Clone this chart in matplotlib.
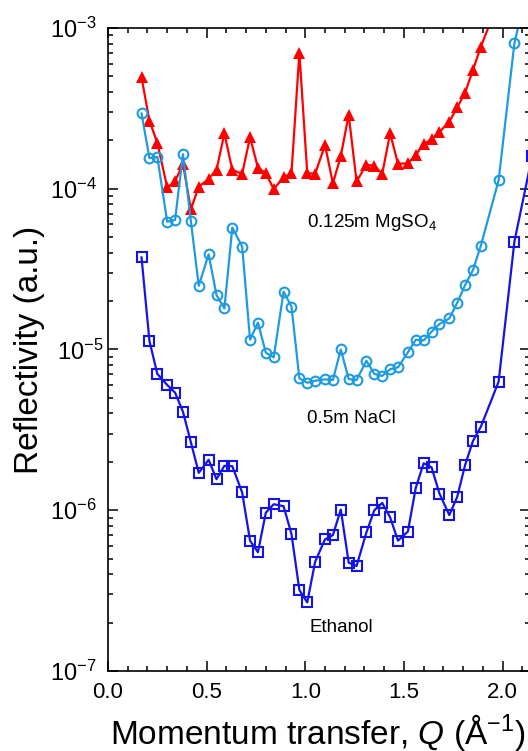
import matplotlib
matplotlib.use("Agg")
import matplotlib.pyplot as plt
from matplotlib.ticker import MultipleLocator, LogLocator, NullFormatter, FormatStrFormatter
from matplotlib.transforms import ScaledTranslation

plt.rcParams['font.family'] = ['Liberation Sans', 'DejaVu Sans']
plt.rcParams['mathtext.fontset'] = 'custom'
plt.rcParams['mathtext.rm'] = 'Liberation Sans'
plt.rcParams['mathtext.it'] = 'Liberation Sans:italic'
plt.rcParams['mathtext.bf'] = 'Liberation Sans:bold'

# momentum transfer grid (1/Angstrom)
q = [0.17, 0.21, 0.25, 0.30, 0.34, 0.38, 0.42, 0.46, 0.51, 0.55,
     0.59, 0.63, 0.68, 0.72, 0.76, 0.80, 0.84, 0.89, 0.93, 0.97,
     1.01, 1.05, 1.10, 1.14, 1.18, 1.22, 1.26, 1.31, 1.35, 1.39,
     1.43, 1.47, 1.52, 1.56, 1.60, 1.64, 1.68, 1.73, 1.77, 1.81,
     1.85, 1.89]
q_tail_mg = [1.94]
q_tail = [1.98, 2.06, 2.15]

mgso4 = [4.93e-4, 2.65e-4, 1.93e-4, 1.02e-4, 1.11e-4, 1.43e-4, 7.45e-5, 1.03e-4, 1.15e-4, 1.31e-4,
         2.21e-4, 1.31e-4, 1.24e-4, 2.09e-4, 1.35e-4, 1.25e-4, 9.93e-5, 1.18e-4, 1.25e-4, 7.02e-4,
         1.25e-4, 1.24e-4, 1.87e-4, 1.08e-4, 1.60e-4, 2.88e-4, 1.11e-4, 1.41e-4, 1.39e-4, 1.24e-4,
         2.21e-4, 1.43e-4, 1.44e-4, 1.62e-4, 1.90e-4, 2.03e-4, 2.26e-4, 2.61e-4, 3.21e-4, 3.96e-4,
         5.48e-4, 7.65e-4]
mgso4_tail = [1.1e-3]

nacl = [2.94e-4, 1.55e-4, 1.58e-4, 6.24e-5, 6.40e-5, 1.64e-4, 6.30e-5, 2.49e-5, 3.91e-5, 2.18e-5,
        1.80e-5, 5.73e-5, 4.37e-5, 1.15e-5, 1.47e-5, 9.55e-6, 8.94e-6, 2.29e-5, 1.85e-5, 6.62e-6,
        6.21e-6, 6.39e-6, 6.52e-6, 6.46e-6, 1.00e-5, 6.55e-6, 6.46e-6, 8.51e-6, 7.05e-6, 6.85e-6,
        7.54e-6, 7.75e-6, 9.61e-6, 1.15e-5, 1.14e-5, 1.29e-5, 1.44e-5, 1.56e-5, 1.95e-5, 2.52e-5,
        3.12e-5, 4.43e-5]
nacl_tail = [1.13e-4, 8.04e-4, 2.4e-3]

ethanol = [3.74e-5, 1.13e-5, 7.05e-6, 6.02e-6, 5.39e-6, 4.10e-6, 2.65e-6, 1.71e-6, 2.06e-6, 1.56e-6,
           1.89e-6, 1.88e-6, 1.29e-6, 6.47e-7, 5.48e-7, 9.66e-7, 1.09e-6, 1.06e-6, 7.11e-7, 3.19e-7,
           2.67e-7, 4.79e-7, 6.59e-7, 7.01e-7, 1.01e-6, 4.72e-7, 4.50e-7, 7.29e-7, 1.00e-6, 1.11e-6,
           9.03e-7, 6.47e-7, 7.37e-7, 1.38e-6, 1.96e-6, 1.85e-6, 1.27e-6, 9.33e-7, 1.21e-6, 1.91e-6,
           2.70e-6, 3.31e-6]
ethanol_tail = [6.31e-6, 4.69e-5, 1.6e-4]

y_ticks = [1e-7, 1e-6, 1e-5, 1e-4, 1e-3]
y_ticklabels = [r'$10^{-7}$', r'$10^{-6}$', r'$10^{-5}$', r'$10^{-4}$', r'$10^{-3}$']

fig = plt.figure(figsize=(5.28, 7.51), dpi=100)
ax = fig.add_axes([108/528, 80/751, 422/528, 643/751])

ax.plot(q + q_tail, ethanol + ethanol_tail, color='#1414e6', lw=1.6,
        marker='s', ms=7, mfc='none', mew=1.5)
ax.plot(q + q_tail_mg, mgso4 + mgso4_tail, color='#ff0000', lw=1.6,
        marker='^', ms=9, mew=0)
ax.plot(q + q_tail, nacl + nacl_tail, color='#1e9be0', lw=1.6,
        marker='o', ms=7, mfc='none', mew=1.5)

ax.set_yscale('log')
ax.set_ylim(1e-7, 1e-3)
ax.set_xlim(0, 2.139)

ax.xaxis.set_major_locator(MultipleLocator(0.5))
ax.xaxis.set_minor_locator(MultipleLocator(0.1))
ax.xaxis.set_major_formatter(FormatStrFormatter('%.1f'))
ax.set_yticks(y_ticks)
ax.set_yticklabels(y_ticklabels)
ax.yaxis.set_minor_locator(LogLocator(base=10, subs=range(2, 10)))
ax.yaxis.set_minor_formatter(NullFormatter())

ax.tick_params(which='both', direction='in', top=True, right=True, width=1.1)
ax.tick_params(which='major', length=7, pad=8)
ax.tick_params(axis='x', which='major', labelsize=16)
ax.tick_params(axis='y', which='major', labelsize=17)
ax.tick_params(which='minor', length=3.5)
for s in ax.spines.values():
    s.set_linewidth(1.2)

ax.set_ylabel('Reflectivity (a.u.)', fontsize=24)
ax.yaxis.set_label_coords(-0.15, 0.5)
ax.set_xlabel(r'Momentum transfer, $\mathit{Q}$ (Å$^{-1}$)', fontsize=24, ha='left', va='baseline')
ax.xaxis.set_label_coords(0.005, -0.1135)

ax.text(1.01, 5.8e-5, r'0.125m MgSO$_4$', fontsize=13.5)
ax.text(1.01, 3.5e-6, '0.5m NaCl', fontsize=13.5)
ax.text(1.02, 1.75e-7, 'Ethanol', fontsize=13.5)

# the 10^-5 label sits a little to the right, clear of the axis title
lbl = ax.get_yticklabels()[2]
lbl.set_transform(lbl.get_transform() + ScaledTranslation(0.07, 0, fig.dpi_scale_trans))

fig.savefig('out.png', dpi=100)
